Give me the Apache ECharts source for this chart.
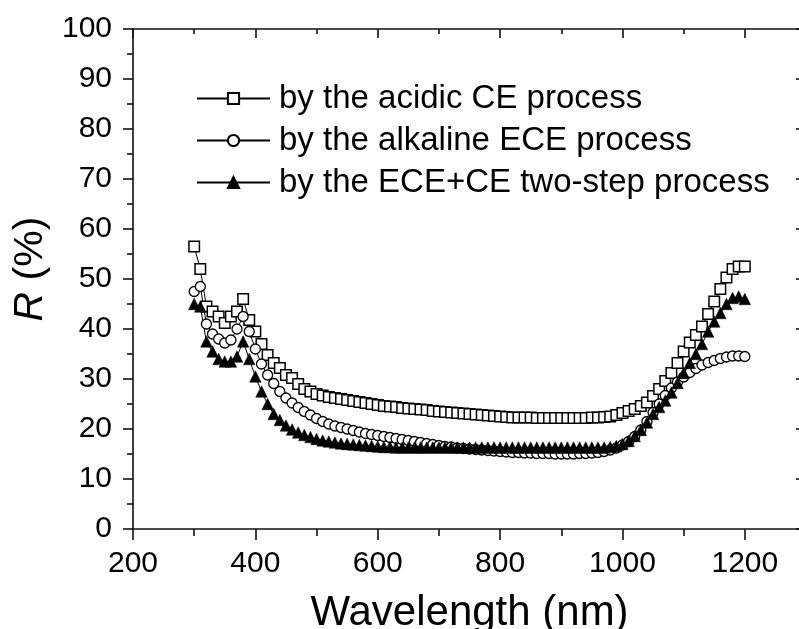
<!DOCTYPE html>
<html>
<head>
<meta charset="utf-8">
<script src="https://cdn.jsdelivr.net/npm/echarts@6/dist/echarts.min.js"></script>
<style>
html,body{margin:0;padding:0;background:#fff;}
#chart{width:799px;height:629px;}
</style>
</head>
<body>
<div id="chart"></div>
<script>
var wavelengths = [
  300,310,320,330,340,350,360,370,380,390,
  400,410,420,430,440,450,460,470,480,490,
  500,510,520,530,540,550,560,570,580,590,
  600,610,620,630,640,650,660,670,680,690,
  700,710,720,730,740,750,760,770,780,790,
  800,810,820,830,840,850,860,870,880,890,
  900,910,920,930,940,950,960,970,980,990,
  1000,1010,1020,1030,1040,1050,1060,1070,1080,1090,
  1100,1110,1120,1130,1140,1150,1160,1170,1180,1190,
  1200
];
var acidicCE = [
  56.5,52,44.5,43.5,42.5,41.2,42.5,43.5,46,41.8,
  39.5,37,34.8,33.2,32.2,30.8,30.2,29,28,27.5,
  27,26.7,26.4,26.2,26,25.8,25.6,25.4,25.2,25,
  24.8,24.6,24.5,24.4,24.2,24.1,24,23.9,23.8,23.6,
  23.5,23.4,23.3,23.2,23.1,23,22.9,22.8,22.7,22.6,
  22.5,22.4,22.3,22.3,22.3,22.3,22.2,22.2,22.2,22.2,
  22.2,22.2,22.2,22.2,22.2,22.3,22.3,22.4,22.5,22.8,
  23.2,23.6,24,24.6,25.3,26.6,28,29.6,31.2,33.2,
  35.5,37.3,38.8,40.5,43,45.5,48,50.3,52,52.5,
  52.5
];
var alkalineECE = [
  47.5,48.5,41,39,38,37.2,37.8,40,42.5,39.5,
  36,33,30.8,29.1,27.5,26.2,25.2,24.3,23.5,22.8,
  22.1,21.5,21,20.6,20.3,20,19.7,19.4,19.1,18.9,
  18.7,18.5,18.3,18.1,17.9,17.7,17.5,17.3,17.1,16.9,
  16.7,16.5,16.4,16.2,16.1,16,15.9,15.8,15.7,15.6,
  15.5,15.4,15.3,15.3,15.2,15.2,15.1,15.1,15.1,15,
  15,15,15,15.1,15.1,15.2,15.3,15.5,15.8,16.2,
  16.8,17.5,18.5,19.8,21.5,23.3,25,26.7,28.2,29.4,
  30.4,31.3,32.1,32.8,33.3,33.7,34.1,34.4,34.6,34.6,
  34.5
];
var twoStep = [
  45,44.5,37.5,35.5,34,33.5,33.5,34.5,37.5,34,
  30.5,27.5,25,23,21.8,20.7,19.9,19.3,18.8,18.4,
  18,17.7,17.5,17.3,17.1,17,16.9,16.8,16.7,16.6,
  16.5,16.4,16.4,16.3,16.3,16.3,16.3,16.3,16.3,16.3,
  16.3,16.3,16.3,16.3,16.3,16.3,16.3,16.3,16.3,16.3,
  16.3,16.3,16.3,16.3,16.3,16.3,16.3,16.3,16.3,16.3,
  16.3,16.3,16.3,16.3,16.3,16.3,16.3,16.3,16.4,16.6,
  17,17.6,18.6,19.8,21.3,23,24.4,25.7,27.3,29.2,
  31.2,33.2,35,37,39.5,41.5,43.2,45,46.2,46.5,
  46
];
var seriesNames = [
  'by the acidic CE process',
  'by the alkaline ECE process',
  'by the ECE+CE two-step process'
];

function pairs(ys){
  var out = [];
  for (var i = 0; i < wavelengths.length; i++) out.push([wavelengths[i], ys[i]]);
  return out;
}

var FONT = '"Liberation Sans", Arial, sans-serif';
var AX = '#111';

var chart = echarts.init(document.getElementById('chart'), null, {renderer: 'canvas'});
chart.setOption({
  animation: false,
  backgroundColor: '#fff',
  textStyle: {fontFamily: FONT, color: '#000'},
  grid: {left: 133, top: 29, width: 673, height: 500, containLabel: false, outerBoundsMode: 'none'},
  legend: {
    orient: 'vertical',
    left: 191, top: 77,
    itemWidth: 73, itemHeight: 14, itemGap: 9,
    textStyle: {fontFamily: FONT, fontSize: 33, color: '#000', lineHeight: 32, padding: [0,0,0,4]},
    data: seriesNames
  },
  xAxis: [{
    type: 'value', min: 200, max: 1300, interval: 200,
    position: 'bottom',
    name: 'Wavelength (nm)', nameLocation: 'middle', nameGap: 63,
    nameTextStyle: {fontFamily: FONT, fontSize: 42, color: '#000'},
    axisLine: {show: true, onZero: false, lineStyle: {color: AX, width: 1.6}},
    axisTick: {show: true, inside: false, length: 11, lineStyle: {color: AX, width: 1.6}},
    minorTick: {show: true, splitNumber: 2, length: 7, lineStyle: {color: AX, width: 1.6}},
    axisLabel: {fontFamily: FONT, fontSize: 30, color: '#000', margin: 20, showMaxLabel: false,
      formatter: function (v) { return String(v); }},
    splitLine: {show: false}
  }, {
    type: 'value', min: 200, max: 1300, interval: 200,
    position: 'top',
    axisLine: {show: true, onZero: false, lineStyle: {color: AX, width: 1.6}},
    axisTick: {show: true, inside: true, length: 9, lineStyle: {color: AX, width: 1.6}},
    minorTick: {show: true, splitNumber: 2, length: 5, lineStyle: {color: AX, width: 1.6}},
    axisLabel: {show: false},
    splitLine: {show: false}
  }],
  yAxis: [{
    type: 'value', min: 0, max: 100, interval: 10,
    position: 'left',
    name: '{i|R} (%)', nameLocation: 'middle', nameGap: 82, nameRotate: 90,
    nameTextStyle: {fontFamily: FONT, fontSize: 41, color: '#000', padding: [0,0,0,20],
      rich: {i: {fontFamily: FONT, fontSize: 41, fontStyle: 'italic', color: '#000'}}},
    axisLine: {show: true, onZero: false, lineStyle: {color: AX, width: 1.6}},
    axisTick: {show: true, inside: false, length: 10, lineStyle: {color: AX, width: 1.6}},
    minorTick: {show: true, splitNumber: 2, length: 6, lineStyle: {color: AX, width: 1.6}},
    axisLabel: {fontFamily: FONT, fontSize: 30, color: '#000', margin: 21},
    splitLine: {show: false}
  }, {
    type: 'value', min: 0, max: 100, interval: 10,
    position: 'right',
    axisLine: {show: true, onZero: false, lineStyle: {color: AX, width: 1.6}},
    axisTick: {show: true, inside: true, length: 10, lineStyle: {color: AX, width: 1.6}},
    minorTick: {show: true, splitNumber: 2, length: 5, lineStyle: {color: AX, width: 1.6}},
    axisLabel: {show: false},
    splitLine: {show: false}
  }],
  series: [{
    name: seriesNames[0], type: 'line', data: pairs(acidicCE),
    symbol: 'rect', symbolSize: 10.5, showAllSymbol: true,
    itemStyle: {color: '#fff', borderColor: '#000', borderWidth: 1.5},
    lineStyle: {color: '#000', width: 1}
  }, {
    name: seriesNames[1], type: 'line', data: pairs(alkalineECE),
    symbol: 'circle', symbolSize: 10, showAllSymbol: true,
    itemStyle: {color: '#fff', borderColor: '#000', borderWidth: 1.3},
    lineStyle: {color: '#000', width: 1}
  }, {
    name: seriesNames[2], type: 'line', data: pairs(twoStep),
    symbol: 'triangle', symbolSize: 11.5, showAllSymbol: true,
    itemStyle: {color: '#000', borderColor: '#000', borderWidth: 0.5},
    lineStyle: {color: '#000', width: 1}
  }]
});
</script>
</body>
</html>
